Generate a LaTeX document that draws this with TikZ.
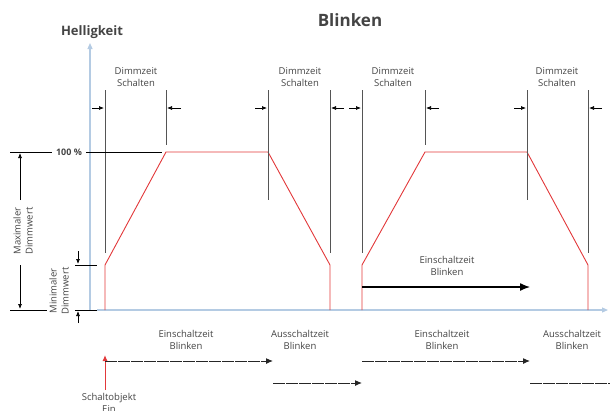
\documentclass[tikz,border=0pt]{standalone}
\usepackage{fontspec}
\setmainfont{Open Sans}
\usetikzlibrary{arrows.meta}
\definecolor{signalred}{HTML}{E2383A}
\definecolor{axisblue}{HTML}{B4CBE3}
\definecolor{markgray}{HTML}{555555}
\definecolor{textgray}{HTML}{444444}

\begin{document}
\begin{tikzpicture}[x=1pt, y=-1pt]
  \tikzstyle{note_text}   = [text=textgray, font=\fontsize{9.5}{12}\selectfont, align=center, inner sep=0pt];
  \tikzstyle{mark_line}   = [draw=markgray, line width=1pt];
  \tikzstyle{signal_line} = [draw=signalred, line width=0.9pt];
  \tikzstyle{axis_line}   = [draw=axisblue, line width=1.2pt, -{Triangle[length=6pt,width=5pt]}];
  \tikzstyle{dim_arrow}   = [draw=black, line width=0.7pt, -{Latex[length=5pt,width=4pt]}];
  \tikzstyle{time_arrow}  = [draw=black!85, line width=1pt, dash pattern=on 12pt off 1pt, -{Latex[length=7pt,width=6pt]}];

  \useasboundingbox (0,0) rectangle (610,410);

  \node[text=textgray, font=\bfseries\fontsize{17}{20}\selectfont] (title) at (350,20) {Blinken};
  \node[text=textgray, font=\bfseries\fontsize{13}{15}\selectfont] (ylabel) at (92,32) {Helligkeit};

  \draw[axis_line] (90,310) -- (90,43);
  \draw[axis_line] (97,310) -- (608,310);

  \draw[signal_line] (105,310) -- (105,265) -- (166,152) -- (268,152) -- (330,265) -- (330,310);
  \draw[signal_line] (362,310) -- (362,265) -- (425,152) -- (527,152) -- (588,265) -- (588,310);

  \draw[mark_line] (105,90) -- (105,253);
  \draw[mark_line] (166,90) -- (166,145);
  \draw[mark_line] (268,90) -- (268,200);
  \draw[mark_line] (330,90) -- (330,253);
  \draw[mark_line] (362,90) -- (362,253);
  \draw[mark_line] (425,90) -- (425,145);
  \draw[mark_line] (527,90) -- (527,200);
  \draw[mark_line] (588,90) -- (588,253);

  \draw[dim_arrow] (92,108)  -- (104,108);
  \draw[dim_arrow] (181,108) -- (167,108);
  \draw[dim_arrow] (255,108) -- (267,108);
  \draw[dim_arrow] (344,108) -- (331,108);
  \draw[dim_arrow] (349,108) -- (361,108);
  \draw[dim_arrow] (439,108) -- (426,108);
  \draw[dim_arrow] (514,108) -- (526,108);
  \draw[dim_arrow] (602,108) -- (589,108);

  \node[note_text] (dimm_a) at (136,77) {Dimmzeit\\Schalten};
  \node[note_text] (dimm_b) at (300,77) {Dimmzeit\\Schalten};
  \node[note_text] (dimm_c) at (393,77) {Dimmzeit\\Schalten};
  \node[note_text] (dimm_d) at (557,77) {Dimmzeit\\Schalten};

  \draw (10,152) -- (52,152);
  \node[text=textgray, font=\bfseries\fontsize{9}{11}\selectfont] (full) at (69,152) {100 \%};
  \draw (86,152) -- (162,152);
  \draw (10,310) -- (47,310);
  \draw (75,310) -- (97,310);
  \draw (75,265) -- (97,265);

  \draw[dim_arrow] (20,200) -- (20,153);
  \draw[dim_arrow] (20,265) -- (20,309);
  \draw[dim_arrow] (78,251) -- (78,264);
  \draw[dim_arrow] (78,323) -- (78,311);

  \node[note_text, rotate=90] (max) at (23,231) {Maximaler\\Dimmwert};
  \node[note_text, rotate=90] (min) at (59,291) {Minimaler\\Dimmwert};

  \node[note_text] (ein_mid) at (447,266) {Einschaltzeit\\Blinken};
  \draw[black, line width=1.3pt, -{Latex[length=10pt,width=8pt]}] (362,287) -- (530,287);

  \node[note_text] (ein_a) at (186,340) {Einschaltzeit\\Blinken};
  \node[note_text] (aus_a) at (300,340) {Ausschaltzeit\\Blinken};
  \node[note_text] (ein_b) at (442,340) {Einschaltzeit\\Blinken};
  \node[note_text] (aus_b) at (572,340) {Ausschaltzeit\\Blinken};

  \draw[signalred, line width=1pt, -{Latex[length=6pt,width=5pt]}] (105,390) -- (105,355);
  \node[note_text, anchor=north] (switch) at (109,393) {Schaltobjekt\\Ein};

  \draw[time_arrow] (105,361) -- (273,361);
  \draw[time_arrow] (273,383) -- (362,383);
  \draw[time_arrow] (362,361) -- (530,361);
  \draw[time_arrow, -] (530,383) -- (610,383);
\end{tikzpicture}
\end{document}
